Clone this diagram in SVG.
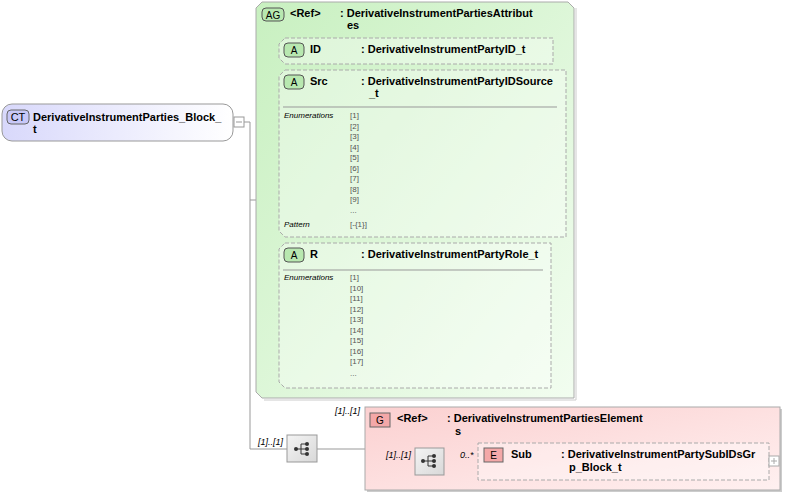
<svg xmlns="http://www.w3.org/2000/svg" width="788" height="496" viewBox="0 0 788 496">
<defs>
<linearGradient id="gCT" x1="0" y1="0" x2="1" y2="0"><stop offset="0" stop-color="#d8d8fb"/><stop offset="1" stop-color="#ffffff"/></linearGradient>
<linearGradient id="gAG" x1="0" y1="0" x2="1" y2="1"><stop offset="0" stop-color="#c8f0c0"/><stop offset="1" stop-color="#f2fdf0"/></linearGradient>
<linearGradient id="gG" x1="0" y1="0" x2="1" y2="1"><stop offset="0" stop-color="#fbd0d0"/><stop offset="1" stop-color="#fff0f0"/></linearGradient>
<linearGradient id="gSeq" x1="0" y1="0" x2="1" y2="1"><stop offset="0" stop-color="#f4f4f4"/><stop offset="1" stop-color="#d8d8d8"/></linearGradient>
<g id="seqIcon">
<path d="M-7 0H-2M-2 -5V5M-2 -5H4M-2 0H4M-2 5H4" stroke="#333" fill="none" stroke-width="1"/>
<circle cx="-7" cy="0" r="2" fill="#333"/><circle cx="4" cy="-5" r="2" fill="#333"/><circle cx="4" cy="0" r="2" fill="#333"/><circle cx="4" cy="5" r="2" fill="#333"/>
</g>
</defs>
<style>
text{font-family:"Liberation Sans",Arial,sans-serif;fill:#000}
.b{font-size:11px;font-weight:bold}
.n{font-size:11px;font-weight:bold}
.s{font-size:8px;fill:#555}
.i{font-size:8px;font-style:italic}
.m{font-size:9px;font-style:italic}
.ln{stroke:#999;fill:none;stroke-width:1}
.dash{fill:#fff;fill-opacity:0.35;stroke:#aaa;stroke-dasharray:4,2;stroke-width:1}
.sep{stroke:#999;stroke-width:1}
</style>
<g id="connectors">
<path class="ln" d="M244 122H250V449H287M250 200H267M267 50V315H279M267 50H279M267 153H279M317 449H365M365 461H415M444 461H478"/>
</g>
<g id="ct">
<rect x="2" y="104" width="231" height="37" rx="10" fill="url(#gCT)" stroke="#999"/>
<rect x="7" y="110" width="22" height="14" rx="4" fill="#c8c8f8" stroke="#666"/>
<text x="18" y="121" text-anchor="middle" font-size="11" fill="#333" font-family="Liberation Sans">CT</text>
<text class="b" x="33" y="121">DerivativeInstrumentParties_Block_</text>
<text class="b" x="33" y="133">t</text>
<rect x="234" y="117" width="10" height="10" fill="#fff" stroke="#999"/>
<path d="M236 122H242" stroke="#999"/>
</g>
<g id="ag">
<path d="M262 2H568L574 8V398H262L256 392V8Z" fill="url(#gAG)" stroke="#aaa"/>
<path d="M576 8V400H264" stroke="#ccc" fill="none"/>
<rect x="262" y="8" width="22" height="13" rx="4" fill="#b8e8b0" stroke="#555"/>
<text x="273" y="19" text-anchor="middle" font-size="10" fill="#333" font-family="Liberation Sans">AG</text>
<text class="n" x="290" y="17">&lt;Ref&gt;</text>
<text class="n" x="340" y="17">: DerivativeInstrumentPartiesAttribut</text>
<text class="n" x="347" y="29">es</text>
</g>
<g id="attrID">
<path class="dash" d="M285 38H553V64H285L279 58V44Z"/>
<rect x="284" y="43" width="20" height="14" rx="4" fill="#b8e8b0" stroke="#555"/>
<text x="294" y="54" text-anchor="middle" font-size="10" fill="#333" font-family="Liberation Sans">A</text>
<text class="n" x="310" y="53">ID</text>
<text class="n" x="361" y="53">: DerivativeInstrumentPartyID_t</text>
</g>
<g id="attrSrc">
<path class="dash" d="M285 70H566V237H285L279 231V76Z"/>
<rect x="284" y="75" width="20" height="14" rx="4" fill="#b8e8b0" stroke="#555"/>
<text x="294" y="86" text-anchor="middle" font-size="10" fill="#333" font-family="Liberation Sans">A</text>
<text class="n" x="310" y="85">Src</text>
<text class="n" x="361" y="85">: DerivativeInstrumentPartyIDSource</text>
<text class="n" x="369" y="97">_t</text>
<line class="sep" x1="283" y1="107" x2="557" y2="107"/>
<text class="i" x="284" y="118">Enumerations</text>
<text class="s" x="350" y="118">[1]</text><text class="s" x="350" y="128.5">[2]</text><text class="s" x="350" y="139">[3]</text><text class="s" x="350" y="149.5">[4]</text><text class="s" x="350" y="160">[5]</text><text class="s" x="350" y="170.5">[6]</text><text class="s" x="350" y="181">[7]</text><text class="s" x="350" y="191.5">[8]</text><text class="s" x="350" y="202">[9]</text><text class="s" x="350" y="213">...</text>
<text class="i" x="284" y="227">Pattern</text>
<text class="s" x="350" y="227">[-{1}]</text>
</g>
<g id="attrR">
<path class="dash" d="M285 243H551V388H285L279 382V249Z"/>
<rect x="284" y="248" width="20" height="14" rx="4" fill="#b8e8b0" stroke="#555"/>
<text x="294" y="259" text-anchor="middle" font-size="10" fill="#333" font-family="Liberation Sans">A</text>
<text class="n" x="310" y="258">R</text>
<text class="n" x="361" y="258">: DerivativeInstrumentPartyRole_t</text>
<line class="sep" x1="283" y1="270" x2="543" y2="270"/>
<text class="i" x="284" y="280">Enumerations</text>
<text class="s" x="350" y="280">[1]</text><text class="s" x="350" y="290.5">[10]</text><text class="s" x="350" y="301">[11]</text><text class="s" x="350" y="311.5">[12]</text><text class="s" x="350" y="322">[13]</text><text class="s" x="350" y="332.5">[14]</text><text class="s" x="350" y="343">[15]</text><text class="s" x="350" y="353.5">[16]</text><text class="s" x="350" y="364">[17]</text><text class="s" x="350" y="376">...</text>
</g>
<g id="seq1">
<text class="m" x="258" y="445">[1]..[1]</text>
<rect x="287" y="435" width="30" height="27" fill="url(#gSeq)" stroke="#999"/>
<use href="#seqIcon" x="303" y="449"/>
</g>
<g id="grp">
<text class="m" x="335" y="414">[1]..[1]</text>
<rect x="367" y="409" width="415" height="83" fill="#ccc"/>
<rect x="365" y="407" width="415" height="83" fill="url(#gG)" stroke="#aaa"/>
<rect x="370" y="413" width="20" height="14" fill="#f4a8a8" stroke="#666"/>
<text x="380" y="424" text-anchor="middle" font-size="10" fill="#333" font-family="Liberation Sans">G</text>
<text class="n" x="397" y="422">&lt;Ref&gt;</text>
<text class="n" x="447" y="422">: DerivativeInstrumentPartiesElement</text>
<text class="n" x="455" y="435">s</text>
</g>
<g id="seq2">
<text class="m" x="386" y="458">[1]..[1]</text>
<rect x="415" y="448" width="29" height="27" fill="url(#gSeq)" stroke="#999"/>
<use href="#seqIcon" x="430" y="461"/>
</g>
<g id="elSub">
<text class="m" x="460" y="458">0..*</text>
<rect class="dash" x="478" y="443" width="291" height="37" fill="#fff"/>
<rect x="484" y="448" width="19" height="14" fill="#f4a8a8" stroke="#666"/>
<text x="493.5" y="459" text-anchor="middle" font-size="10" fill="#333" font-family="Liberation Sans">E</text>
<text class="n" x="511" y="458">Sub</text>
<text class="n" x="561" y="458">: DerivativeInstrumentPartySubIDsGr</text>
<text class="n" x="569" y="471">p_Block_t</text>
<rect x="769" y="456" width="10" height="10" fill="#fff" stroke="#aaa"/>
<path d="M771 461H777M774 458V464" stroke="#aaa"/>
</g>
</svg>
